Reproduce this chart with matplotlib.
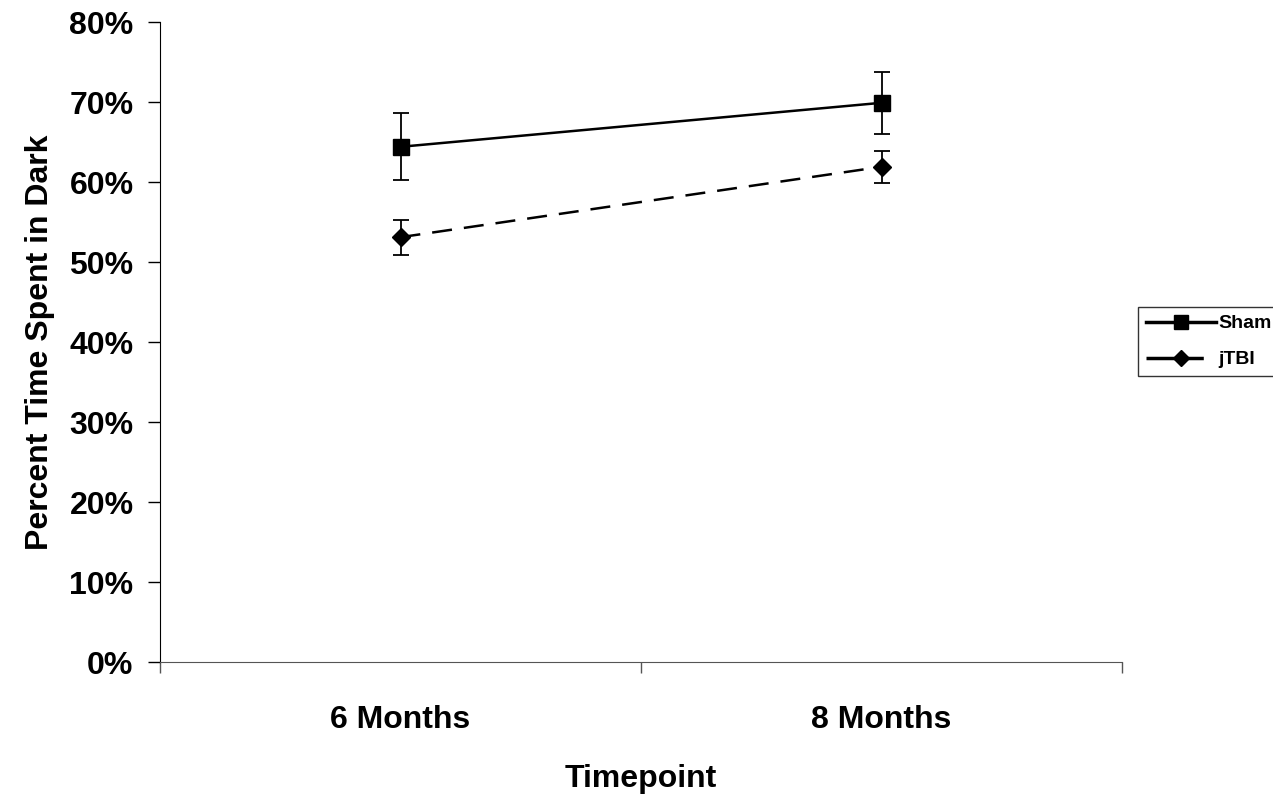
import numpy as np
import matplotlib
matplotlib.use("Agg")
import matplotlib.pyplot as plt
from matplotlib.lines import Line2D
from matplotlib.ticker import PercentFormatter

plt.rcParams['font.family'] = ['Liberation Sans', 'DejaVu Sans']
plt.rcParams['font.weight'] = 'bold'

timepoints = ['6 Months', '8 Months']
sham_mean = [64.4, 69.9]
sham_err = [4.2, 3.9]
jtbi_mean = [53.1, 61.9]
jtbi_err = [2.2, 2.0]

fig = plt.figure(figsize=(12.73, 7.99), dpi=100)
ax = fig.add_axes([160/1273, 137/799, 962/1273, 640/799])

x = np.arange(len(timepoints)) + 0.5
dash = (0, (8, 4.8))

ax.errorbar(x, sham_mean, yerr=sham_err, color='black', lw=1.8, marker='s',
            markersize=11, capsize=6, elinewidth=1.3, capthick=1.3)
ax.errorbar(x, jtbi_mean, yerr=jtbi_err, color='black', lw=1.8, marker='D',
            markersize=9, capsize=6, elinewidth=1.3, capthick=1.3,
            linestyle=dash)

ax.set_xlim(0, 2)
ax.set_ylim(0, 80)
ax.set_xticks([0, 1, 2])
ax.set_xticklabels([])
ax.set_xticks(x, minor=True)
ax.set_xticklabels(timepoints, minor=True, fontsize=23, fontweight='bold')
ax.tick_params(axis='x', which='minor', length=0, pad=31)
ax.tick_params(axis='x', which='major', length=8, width=1, color='#555555', direction='out')
ax.set_yticks(np.arange(0, 81, 10))
ax.yaxis.set_major_formatter(PercentFormatter(decimals=0))
ax.tick_params(axis='y', length=9, width=1, direction='out', labelsize=23, pad=10)
for lab in ax.get_yticklabels():
    lab.set_fontweight('bold')

ax.spines['top'].set_visible(False)
ax.spines['right'].set_visible(False)
ax.spines['bottom'].set_color('#555555')
ax.spines['left'].set_color('black')

ax.set_xlabel('Timepoint', fontsize=23, fontweight='bold', labelpad=21)
ax.set_ylabel('Percent Time Spent in Dark', fontsize=23, fontweight='bold', labelpad=10)

# legend keys: long dashes so the jTBI key reads almost solid
handles = [
    Line2D([], [], color='black', lw=2.5, marker='s', markersize=10),
    Line2D([], [], color='black', lw=2.5, marker='D', markersize=8, linestyle=(0, (16.5, 4))),
]
leg = fig.legend(handles, ['Sham', 'jTBI'], loc='upper left',
                 bbox_to_anchor=(1138/1273, 1 - 307/799),
                 frameon=True, fancybox=False, edgecolor='black',
                 prop={'weight': 'bold', 'size': 14}, handlelength=3.6,
                 borderpad=0.4, labelspacing=0.95, handletextpad=0.15,
                 borderaxespad=0)
leg.get_frame().set_linewidth(1)

fig.savefig('out.png', dpi=100)
